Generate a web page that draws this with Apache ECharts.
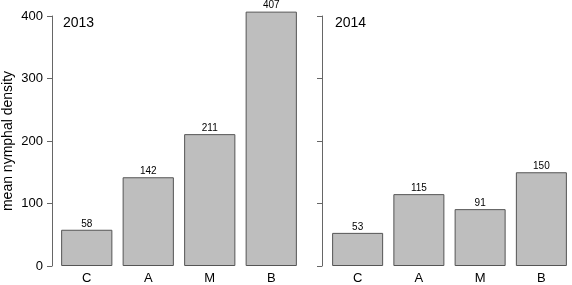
<!DOCTYPE html>
<html>
<head>
<meta charset="utf-8">
<script src="https://cdn.jsdelivr.net/npm/echarts@6/dist/echarts.min.js"></script>
<style>
  html, body { margin: 0; padding: 0; background: #fff; }
  #chart { width: 572px; height: 285px; }
</style>
</head>
<body>
<div id="chart"></div>
<script>
// habitat categories and mean densities per year
const categories = ['C', 'A', 'M', 'B'];
const density2013 = [58, 142, 211, 407];
const density2014 = [53, 115, 91, 150];
const yTicks = [0, 100, 200, 300, 400];

const chart = echarts.init(document.getElementById('chart'));

const fontFamily = 'Liberation Sans, Arial, sans-serif';

function makeX(gridIndex) {
  return {
    type: 'category',
    gridIndex: gridIndex,
    data: categories,
    axisLine: { show: false },
    axisTick: { show: false },
    axisLabel: { color: '#000', fontSize: 13, margin: 6, fontFamily: fontFamily }
  };
}

function makeY(gridIndex, showLabels, offset) {
  return {
    type: 'value',
    gridIndex: gridIndex,
    min: yTicks[0],
    max: yTicks[yTicks.length - 1],
    interval: 100,
    offset: offset,
    axisLine: { show: true, lineStyle: { color: '#666', width: 1 } },
    axisTick: { show: true, length: 5, lineStyle: { color: '#666' } },
    axisLabel: { show: showLabels, color: '#000', fontSize: 13, margin: 9, fontFamily: fontFamily },
    splitLine: { show: false },
    name: showLabels ? 'mean nymphal density' : '',
    nameLocation: 'middle',
    nameRotate: 90,
    nameGap: 37,
    nameTextStyle: { color: '#000', fontSize: 14, fontFamily: fontFamily }
  };
}

function makeSeries(idx, data) {
  return {
    type: 'bar',
    xAxisIndex: idx,
    yAxisIndex: idx,
    data: data,
    clip: false,
    barCategoryGap: '16.7%',
    itemStyle: { color: '#bebebe', borderColor: '#555', borderWidth: 1 },
    label: {
      show: true,
      position: 'top',
      distance: 1,
      color: '#000',
      fontSize: 10,
      fontFamily: fontFamily
    },
    emphasis: { disabled: true }
  };
}

const option = {
  animation: false,
  title: [
    { text: '2013', left: 58, top: 11, textStyle: { fontSize: 14, fontWeight: 'normal', color: '#000', fontFamily: fontFamily } },
    { text: '2014', left: 330, top: 11, textStyle: { fontSize: 14, fontWeight: 'normal', color: '#000', fontFamily: fontFamily } }
  ],
  grid: [
    { left: 54, top: 16, width: 248, height: 252 },
    { left: 327, top: 16, width: 248, height: 252 }
  ],
  xAxis: [makeX(0), makeX(1)],
  yAxis: [makeY(0, true, 4), makeY(1, false, 5)],
  series: [makeSeries(0, density2013), makeSeries(1, density2014)]
};

chart.setOption(option);
</script>
</body>
</html>
